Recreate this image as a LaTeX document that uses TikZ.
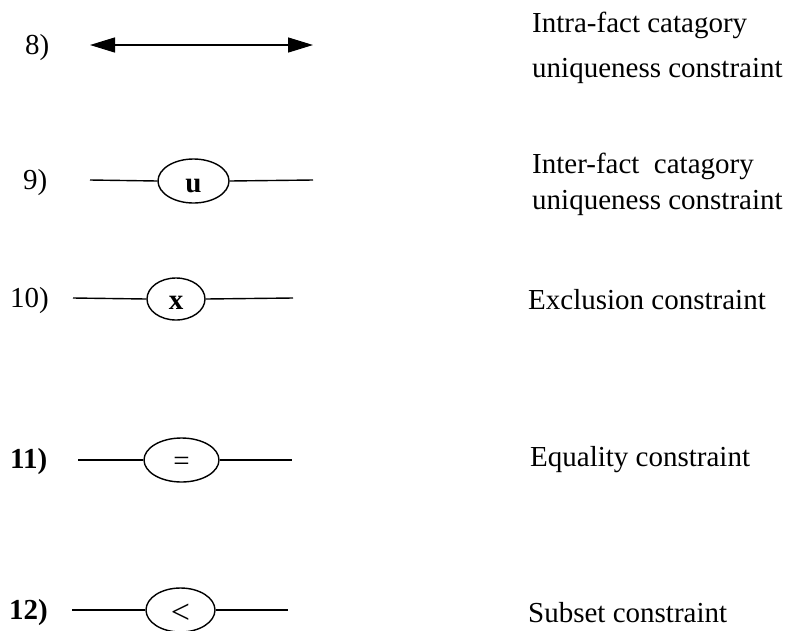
\documentclass[tikz,border=0pt]{standalone}
\usepackage{fontspec}
\setmainfont{Liberation Serif}
\usetikzlibrary{shapes.geometric,arrows.meta}

% symbol sitting a little below the middle of its ellipse
\newcommand{\sym}[2]{\raisebox{-#1pt}[0pt][0pt]{#2}}

\begin{document}
\begin{tikzpicture}[x=1pt, y=-1pt, font=\fontsize{29}{35}\selectfont,
	con/.style={ellipse, draw, line width=1.4pt, inner sep=0pt},
	lbl/.style={anchor=base west, inner sep=0pt},
	conline/.style={line width=1.4pt},
	bothtips/.style={arrows={Triangle[length=25pt, width=15pt]-Triangle[length=25pt, width=15pt]}}]
	\useasboundingbox (0,0) rectangle (787,630);
	% 8) intra-fact
	\node[lbl] (n8) at (25,54) {8)};
	\coordinate (l8) at (90,45);
	\coordinate (r8) at (313,45);
	\draw[conline, bothtips] (l8) -- (r8);
	\node[lbl] (t8a) at (532,32) {Intra-fact catagory};
	\node[lbl] (t8b) at (532,77) {uniqueness constraint};
	% 9) inter-fact
	\node[lbl] (n9) at (23,189) {9)};
	\node[con, minimum width=71pt, minimum height=44pt] (e9) at (193.5,181) {\sym{11}{\textbf{u}}};
	\coordinate (l9) at (90,180);
	\coordinate (r9) at (313,180);
	\draw[conline] (l9) -- (e9.west);
	\draw[conline] (e9.east) -- (r9);
	\node[lbl] (t9a) at (532,173) {Inter-fact\ \ catagory};
	\node[lbl] (t9b) at (532,209) {uniqueness constraint};
	% 10) exclusion
	\node[lbl] (n10) at (10,307) {10)};
	\node[con, minimum width=58pt, minimum height=42pt] (e10) at (176,299) {\sym{10}{\textbf{x}}};
	\coordinate (l10) at (73,298);
	\coordinate (r10) at (293,298);
	\draw[conline] (l10) -- (e10.west);
	\draw[conline] (e10.east) -- (r10);
	\node[lbl] (t10) at (528,309) {Exclusion constraint};
	% 11) equality
	\node[lbl] (n11) at (10,468) {\textbf{11)}};
	\node[con, minimum width=75pt, minimum height=44pt] (e11) at (181.5,460) {\sym{10}{=}};
	\coordinate (l11) at (78,460);
	\coordinate (r11) at (292,460);
	\draw[conline] (l11) -- (e11.west);
	\draw[conline] (e11.east) -- (r11);
	\node[lbl] (t11) at (530,466) {Equality constraint};
	% 12) subset
	\node[lbl] (n12) at (9,619) {\textbf{12)}};
	\node[con, minimum width=69pt, minimum height=44pt] (e12) at (180.5,610) {\sym{13}{\fontsize{34}{40}\selectfont<}};
	\coordinate (l12) at (72,610);
	\coordinate (r12) at (288,610);
	\draw[conline] (l12) -- (e12.west);
	\draw[conline] (e12.east) -- (r12);
	\node[lbl] (t12) at (528,622) {Subset constraint};
\end{tikzpicture}
\end{document}
